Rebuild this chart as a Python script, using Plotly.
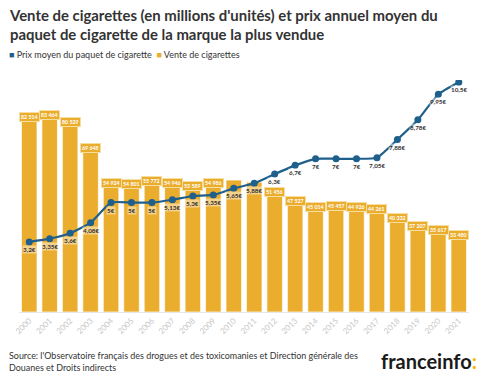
import plotly.graph_objects as go

years = [str(y) for y in range(2000, 2022)]
sales = [82514, 83464, 80529, 69648, 54924, 54801, 55772, 54946, 53589, 54986,
         55000, 54100, 51456, 47527, 45014, 45457, 44926, 44261, 40332, 37207,
         35617, 33480]
sales_labels = ["82 514", "83 464", "80 529", "69 648", "54 924", "54 801", "55 772",
                "54 946", "53 589", "54 986", "", "", "51 456", "47 527", "45 014",
                "45 457", "44 926", "44 261", "40 332", "37 207", "35 617", "33 480"]
prices = [3.2, 3.35, 3.6, 4.08, 5, 5, 5, 5.13, 5.3, 5.35, 5.65, 5.88, 6.3, 6.7,
          7, 7, 7, 7.05, 7.88, 8.78, 9.95, 10.5]
price_labels = ["3,2€", "3,35€", "3,6€", "4,08€", "5€", "5€", "5€", "5,13€", "5,3€",
                "5,35€", "5,65€", "5,88€", "6,3€", "6,7€", "7€", "7€", "7€", "7,05€",
                "7,88€", "8,78€", "9,95€", "10,5€"]

ORANGE = "#EBAD2D"
BLUE = "#1E5F8C"
FONT = "Lato"

fig = go.Figure()
fig.add_trace(go.Bar(
    x=years, y=sales, marker=dict(color=ORANGE, line=dict(color="rgba(255,255,255,0.7)", width=1)),
    showlegend=False, hoverinfo="skip", yaxis="y"))
fig.add_trace(go.Scatter(
    x=years, y=prices, mode="lines+markers", yaxis="y2",
    line=dict(color=BLUE, width=2.2, shape="spline", smoothing=0.5),
    marker=dict(color=BLUE, size=7), showlegend=False, hoverinfo="skip"))

annotations = []
for i, (v, t) in enumerate(zip(sales, sales_labels)):
    if not t:
        continue
    annotations.append(dict(
        x=i, y=v, xref="x", yref="y", text=f"<b>{t}</b>", showarrow=False,
        yanchor="top", yshift=2, font=dict(family=FONT, size=5.3, color="white"),
        bgcolor=ORANGE, bordercolor="#F6DDA0", borderwidth=1, borderpad=1))
for i, (v, t) in enumerate(zip(prices, price_labels)):
    annotations.append(dict(
        x=i, y=v, xref="x", yref="y2", text=f"<b>{t}</b>", showarrow=False,
        yanchor="top", yshift=-3, font=dict(family=FONT, size=6.3, color="#333333"),
        bgcolor="rgba(255,255,255,0.45)", borderpad=0))

annotations.append(dict(
    xref="paper", yref="paper", x=-0.026, y=1.3276, xanchor="left", yanchor="top",
    showarrow=False, align="left",
    text="<b>Vente de cigarettes (en millions d'unités) et prix annuel moyen du<br>paquet de cigarette de la marque la plus vendue</b>",
    font=dict(family=FONT, size=14.9, color="#333333")))
annotations.append(dict(
    xref="paper", yref="paper", x=-0.026, y=1.108, xanchor="left", yanchor="middle",
    showarrow=False, align="left",
    text=f'<span style="color:{BLUE}">■</span> Prix moyen du paquet de cigarette  '
         f'<span style="color:{ORANGE}">■</span> Vente de cigarettes',
    font=dict(family=FONT, size=9, color="#333333")))
annotations.append(dict(
    xref="paper", yref="paper", x=-0.026, y=-0.155, xanchor="left", yanchor="top",
    showarrow=False, align="left",
    text="Source: l'Observatoire français des drogues et des toxicomanies et Direction générale des<br>Douanes et Droits indirects",
    font=dict(family=FONT, size=8.95, color="#333333")))
annotations.append(dict(
    xref="paper", yref="paper", x=1.022, y=-0.211, xanchor="right", yanchor="middle",
    showarrow=False,
    text='<b>franceinfo</b><b><span style="color:#F2B705">:</span></b>',
    font=dict(family=FONT, size=20, color="#1a1a1a")))

fig.update_layout(
    width=500, height=384,
    margin=dict(l=19, r=31, t=80, b=72),
    paper_bgcolor="white", plot_bgcolor="white",
    bargap=0.24,
    hovermode=False,
    xaxis=dict(type="category", range=[-0.5, 21.5], tickangle=-45,
               tickfont=dict(family=FONT, size=8, color="#c8c8c8"),
               showline=True, linecolor="#e6e6e6", showgrid=False, ticks="", fixedrange=True),
    yaxis=dict(range=[0, 96700], visible=False, showgrid=False, fixedrange=True),
    yaxis2=dict(range=[0, 10.6], overlaying="y", visible=False, showgrid=False, fixedrange=True),
    annotations=annotations,
    showlegend=False,
)

fig.write_html("out.html", config={"displayModeBar": False},
               post_script="document.body.style.margin='0';")
